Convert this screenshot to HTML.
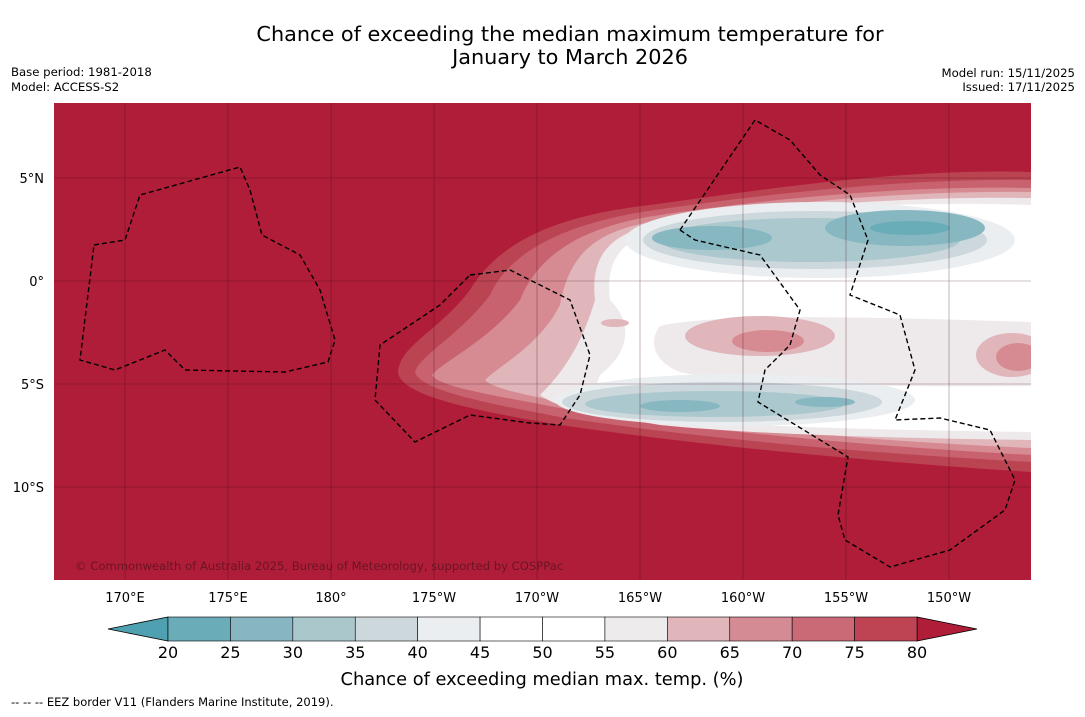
<!DOCTYPE html>
<html><head><meta charset="utf-8"><style>
body{margin:0;background:#fff;width:1085px;height:713px;overflow:hidden;font-family:"DejaVu Sans","Liberation Sans",sans-serif}
</style></head><body>
<svg width="1085" height="713" xmlns="http://www.w3.org/2000/svg" font-family="DejaVu Sans, Liberation Sans, sans-serif">
<text x="570" y="41" font-size="20.8" text-anchor="middle">Chance of exceeding the median maximum temperature for</text>
<text x="570" y="64" font-size="20.8" text-anchor="middle">January to March 2026</text>
<text x="11" y="76" font-size="11.7">Base period: 1981-2018</text>
<text x="11" y="91" font-size="11.7">Model: ACCESS-S2</text>
<text x="1075" y="77" font-size="11.7" text-anchor="end">Model run: 15/11/2025</text>
<text x="1075" y="91" font-size="11.7" text-anchor="end">Issued: 17/11/2025</text>
<defs><clipPath id="mc"><rect x="54" y="103" width="977" height="477"/></clipPath></defs>
<g clip-path="url(#mc)">
<rect x="54" y="103" width="977" height="477" fill="#b01d38"/>
<g>
<path fill="#bb4453" d="M1031,172 C900,168 760,190 650,205 C560,215 500,240 470,290 C440,330 400,345 398,372 C400,395 470,410 560,425 C700,445 850,460 1031,472 Z"/>
<path fill="#c8626f" d="M1031,180 C900,178 760,195 655,210 C570,222 510,250 490,295 C460,335 420,355 415,372 C420,390 480,402 565,418 C700,438 850,452 1031,462 Z"/>
<path fill="#d68b93" d="M1031,188 C900,185 760,200 660,215 C590,225 540,250 520,300 C490,340 445,360 432,375 C440,388 500,396 570,410 C700,430 850,445 1031,455 Z"/>
<path fill="#e0b6bb" d="M1031,192 C900,190 760,205 665,220 C600,228 570,250 560,305 C540,345 500,365 485,380 C495,390 530,395 575,405 C700,425 850,440 1031,448 Z"/>
<path fill="#eee9eb" d="M1031,198 C900,196 760,208 670,222 C610,230 590,255 595,300 C580,350 560,375 540,395 C560,410 600,415 660,425 C760,435 900,438 1031,440 Z"/>
<path fill="#ffffff" d="M1031,205 C900,200 760,210 680,225 C620,235 605,260 610,300 C640,330 620,360 600,375 C590,395 610,410 680,420 C780,428 900,430 1031,432 Z"/>
<path fill="#eee9eb" d="M660,326 C720,312 900,318 1031,322 L1031,386 C900,388 720,383 680,372 C650,360 650,338 660,326 Z"/>
<ellipse cx="760" cy="336" rx="75" ry="20" fill="#e0b6bb"/>
<ellipse cx="768" cy="341" rx="36" ry="11" fill="#d68b93"/>
<ellipse cx="615" cy="323" rx="14" ry="4" fill="#e0b6bb"/>
<ellipse cx="1012" cy="355" rx="36" ry="22" fill="#e0b6bb"/>
<ellipse cx="1018" cy="357" rx="22" ry="14" fill="#d68b93"/>
<ellipse cx="820" cy="240" rx="195" ry="38" fill="#eaeef1"/>
<ellipse cx="815" cy="240" rx="172" ry="29" fill="#cdd8dd"/>
<ellipse cx="810" cy="240" rx="150" ry="22" fill="#aac8cd"/>
<ellipse cx="712" cy="238" rx="60" ry="12" fill="#87b7c1"/>
<ellipse cx="905" cy="228" rx="80" ry="18" fill="#87b7c1"/>
<ellipse cx="910" cy="228" rx="40" ry="7" fill="#69adb9"/>
<ellipse cx="735" cy="400" rx="180" ry="26" fill="#eaeef1"/>
<ellipse cx="722" cy="402" rx="160" ry="20" fill="#cdd8dd"/>
<ellipse cx="715" cy="404" rx="130" ry="13" fill="#aac8cd"/>
<ellipse cx="680" cy="406" rx="40" ry="6" fill="#87b7c1"/>
<ellipse cx="825" cy="402" rx="30" ry="5" fill="#87b7c1"/>
</g>
<g stroke="#3a0812" stroke-width="0.6" opacity="0.5" id="grat"></g>
<g fill="none" stroke="#000" stroke-width="1.4" stroke-dasharray="5,3">
<path d="M94,245 L125,240 L140,195 L240,167 L250,190 L262,235 L300,255 L320,290 L335,340 L328,362 L285,372 L185,370 L165,350 L115,370 L80,360 Z"/>
<path d="M470,275 L510,270 L570,300 L590,355 L580,395 L560,425 L530,423 L470,415 L415,442 L375,400 L380,345 L440,305 Z"/>
<path d="M680,230 L755,120 L790,140 L820,175 L850,195 L868,240 L850,295 L900,315 L915,370 L895,420 L940,418 L990,430 L1015,480 L1005,510 L950,550 L890,567 L845,540 L838,515 L848,457 L758,402 L765,370 L790,345 L800,310 L760,255 L695,240 Z"/>
</g>
<text x="75" y="570" font-size="11.6" fill="#6a1426">© Commonwealth of Australia 2025, Bureau of Meteorology, supported by COSPPac</text>
</g>
<g id="lat" font-size="13" text-anchor="end"></g>
<g id="lon" font-size="13" text-anchor="middle"></g>
<g id="cbar"></g>
<text x="542" y="685" font-size="17.8" text-anchor="middle">Chance of exceeding median max. temp. (%)</text>
<text x="11" y="706" font-size="11.5">--  --  -- EEZ border V11 (Flanders Marine Institute, 2019).</text>
</svg>
<script>
const lonLabels=["170°E","175°E","180°","175°W","170°W","165°W","160°W","155°W","150°W"];
const lonValues=[170,175,180,185,190,195,200,205,210];
const latLabels=["5°N","0°","5°S","10°S"];
const latValues=[5,0,-5,-10];
const levels=[20,25,30,35,40,45,50,55,60,65,70,75,80];
const levelColors=["#6aacb8","#87b5c1","#aac7cc","#cdd8dd","#eaeef1","#ffffff","#ffffff","#eeebec","#e0b6bb","#d58b93","#c96a76","#be4454"];
const NS="http://www.w3.org/2000/svg";
const xLon=v=>125+(v-170)*20.6;
const yLat=v=>281-v*20.6;
function mk(t,a,p){const e=document.createElementNS(NS,t);for(const k in a)e.setAttribute(k,a[k]);p.appendChild(e);return e;}
const grat=document.getElementById('grat'),lon=document.getElementById('lon'),lat=document.getElementById('lat'),cb=document.getElementById('cbar');
lonValues.forEach((v,i)=>{const x=xLon(v);
const l=mk('line',{x1:x,x2:x,y1:103,y2:580},grat);


const t=mk('text',{x:x,y:602},lon);t.textContent=lonLabels[i];

});
latValues.forEach((v,i)=>{const y=yLat(v);
const l=mk('line',{x1:54,x2:1031,y1:y,y2:y},grat);


const t=mk('text',{x:44,y:y+5},lat);t.textContent=latLabels[i];

});
const cx0=168,cx1=917,cy=617,ch=24,n=levelColors.length,w=(cx1-cx0)/n;
const lt=mk('polygon',{points:`${cx0},${cy} ${cx0},${cy+ch} 108,${cy+ch/2}`,fill:"#4fa1b1",stroke:"#000","stroke-width":0.8},cb);


const rt=mk('polygon',{points:`${cx1},${cy} ${cx1},${cy+ch} 977,${cy+ch/2}`,fill:"#b01d38",stroke:"#000","stroke-width":0.8},cb);


levelColors.forEach((c,i)=>{const r=mk('rect',{x:cx0+i*w,y:cy,width:w,height:ch,fill:c,stroke:"#000","stroke-width":0.6},cb);

});
levels.forEach((v,i)=>{const t=mk('text',{x:cx0+i*w,y:658,"font-size":16,"text-anchor":"middle"},cb);t.textContent=v;

});
</script>
</body></html>
